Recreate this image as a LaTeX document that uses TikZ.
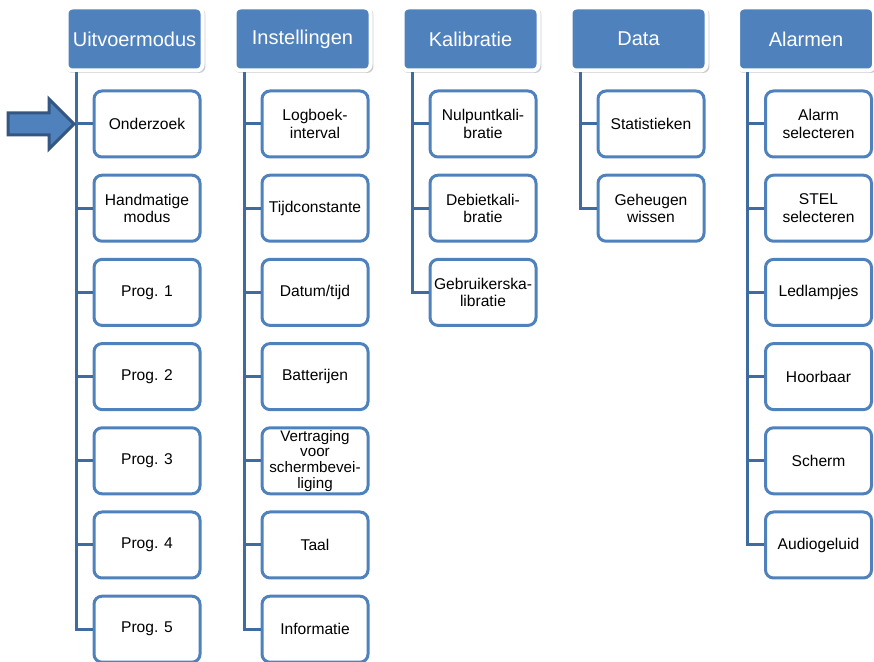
\documentclass[tikz,border=0pt]{standalone}
\usepackage{fontspec}
\setmainfont{Liberation Sans}
\usetikzlibrary{positioning,shadows}
\definecolor{menublue}{RGB}{79,129,189}
\definecolor{linkblue}{RGB}{62,108,160}
\definecolor{arrowedge}{RGB}{52,86,130}

\begin{document}
\begin{tikzpicture}[x=0.5pt, y=0.5pt, node distance=42.1pt,
	head/.style = {draw=white, line width=2pt, fill=menublue, rounded corners=3pt, text=white, minimum width=68pt, minimum height=31.5pt, inner sep=0pt, font=\fontsize{10}{12}\selectfont, drop shadow={shadow xshift=0.6pt, shadow yshift=-0.8pt, shadow scale=1.025, opacity=0.4}},
	item/.style = {draw=menublue, line width=1.5pt, fill=white, rounded corners=4pt, minimum width=53pt, minimum height=33pt, inner sep=0pt, align=center, font=\fontsize{7.8}{8.6}\selectfont},
	link/.style = {draw=linkblue, line width=1.5pt},
	pointer/.style = {draw=arrowedge, fill=menublue, line width=1.5pt, line join=miter}]
	\useasboundingbox (0,0) rectangle (874,-662);

	\node[head] (uit) at (134.5,-39) {Uitvoermodus};
	\node[item] (u1) at (147,-124) {Onderzoek};
	\node[item] (u2) [below of=u1] {Handmatige\\modus};
	\node[item] (u3) [below of=u2] {Prog. 1};
	\node[item] (u4) [below of=u3] {Prog. 2};
	\node[item] (u5) [below of=u4] {Prog. 3};
	\node[item] (u6) [below of=u5] {Prog. 4};
	\node[item] (u7) [below of=u6] {Prog. 5};

	\node[head] (ins) at (302.5,-39) {Instellingen};
	\node[item] (i1) at (315,-124) {Logboek-\\interval};
	\node[item] (i2) [below of=i1] {Tijdconstante};
	\node[item] (i3) [below of=i2] {Datum/tijd};
	\node[item] (i4) [below of=i3] {Batterijen};
	\node[item, font=\fontsize{7.6}{7.9}\selectfont] (i5) [below of=i4] {Vertraging\\voor\\schermbevei-\\liging};
	\node[item] (i6) [below of=i5] {Taal};
	\node[item] (i7) [below of=i6] {Informatie};

	\node[head] (kal) at (470.5,-39) {Kalibratie};
	\node[item] (k1) at (483,-124) {Nulpuntkali-\\bratie};
	\node[item] (k2) [below of=k1] {Debietkali-\\bratie};
	\node[item] (k3) [below of=k2] {Gebruikerska-\\libratie};

	\node[head] (dat) at (638.5,-39) {Data};
	\node[item] (d1) at (651,-124) {Statistieken};
	\node[item] (d2) [below of=d1] {Geheugen\\wissen};

	\node[head] (ala) at (806,-39) {Alarmen};
	\node[item] (a1) at (818.5,-124) {Alarm\\selecteren};
	\node[item] (a2) [below of=a1] {STEL\\selecteren};
	\node[item] (a3) [below of=a2] {Ledlampjes};
	\node[item] (a4) [below of=a3] {Hoorbaar};
	\node[item] (a5) [below of=a4] {Scherm};
	\node[item] (a6) [below of=a5] {Audiogeluid};

	% Spines
	\coordinate (uitL) at ([xshift=5.75pt]uit.south west);
	\coordinate (insL) at ([xshift=5.75pt]ins.south west);
	\coordinate (kalL) at ([xshift=5.75pt]kal.south west);
	\coordinate (datL) at ([xshift=5.75pt]dat.south west);
	\coordinate (alaL) at ([xshift=5.75pt]ala.south west);

	\draw[link] (uitL) |- (u7);
	\foreach \i in {1,...,6} \draw[link] (uitL |- u\i) -- (u\i);
	\draw[link] (insL) |- (i7);
	\foreach \i in {1,...,6} \draw[link] (insL |- i\i) -- (i\i);
	\draw[link] (kalL) |- (k3);
	\foreach \i in {1,2} \draw[link] (kalL |- k\i) -- (k\i);
	\draw[link] (datL) |- (d2);
	\draw[link] (datL |- d1) -- (d1);
	\draw[link] (alaL) |- (a6);
	\foreach \i in {1,...,5} \draw[link] (alaL |- a\i) -- (a\i);

	% Pointer
	\draw[pointer] (74,-124) -- (49,-99) -- (49,-113) -- (8,-113) -- (8,-135) -- (49,-135) -- (49,-149) -- cycle;

\end{tikzpicture}
\end{document}
